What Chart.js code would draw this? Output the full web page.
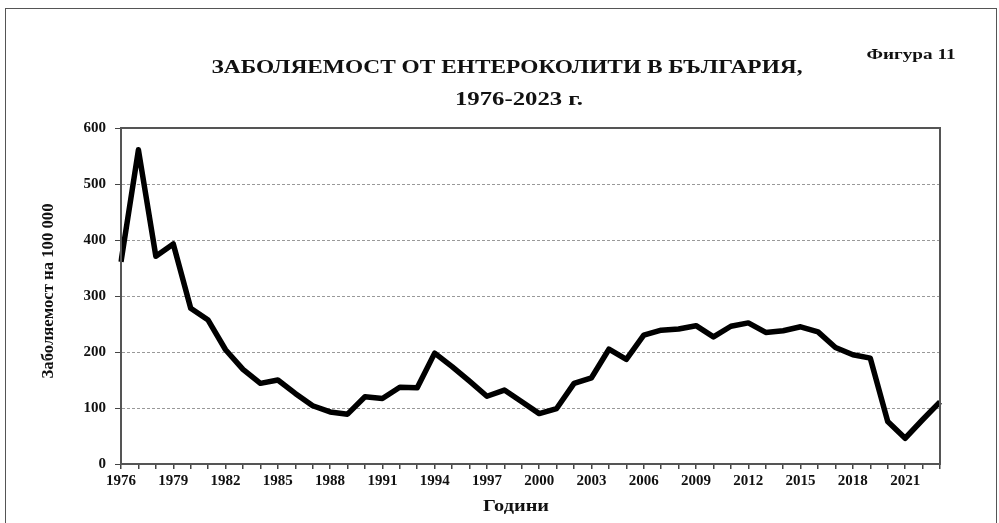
<!DOCTYPE html>
<html>
<head>
<meta charset="utf-8">
<script src="https://cdn.jsdelivr.net/npm/chart.js@4/dist/chart.umd.min.js"></script>
<style>
  html, body { margin: 0; padding: 0; background: #fff; }
  #wrap { position: relative; width: 999px; height: 523px; overflow: hidden; }
  #frame { position: absolute; left: 5px; top: 8px; width: 990px; height: 530px; border: 1.5px solid #555; }
  canvas { position: absolute; left: 0; top: 0; }
</style>
</head>
<body>
<div id="wrap">
  <div id="frame"></div>
  <canvas id="chart_zaboliaemost" width="999" height="523"></canvas>
</div>
<script>
// данни - години и заболяемост на 100 000
var godini = ['1976','1977','1978','1979','1980','1981','1982','1983','1984','1985','1986','1987',
  '1988','1989','1990','1991','1992','1993','1994','1995','1996','1997','1998','1999',
  '2000','2001','2002','2003','2004','2005','2006','2007','2008','2009','2010','2011',
  '2012','2013','2014','2015','2016','2017','2018','2019','2020','2021','2022','2023'];
var zaboliaemost = [361, 561, 371, 393, 278, 257, 204, 169, 144, 150, 126, 104,
  93, 89, 120, 117, 137, 136, 198, 174, 148, 121, 132, 111,
  90, 99, 144, 154, 205, 187, 230, 239, 241, 247, 227, 246,
  252, 235, 238, 245, 236, 208, 195, 189, 76, 46, 79, 111];
var pokazaniGodini = ['1976','1979','1982','1985','1988','1991','1994','1997','2000','2003','2006','2009','2012','2015','2018','2021'];
var yTicks = [0, 100, 200, 300, 400, 500, 600];

var zaglavie1 = 'ЗАБОЛЯЕМОСТ ОТ ЕНТЕРОКОЛИТИ В БЪЛГАРИЯ,';
var zaglavie2 = '1976-2023 г.';
var figura = 'Фигура 11';
var yZaglavie = 'Заболяемост на 100 000';
var xZaglavie = 'Години';

var serif = '"Liberation Serif", "DejaVu Serif", serif';

// текст, свит/разпънат до дадена ширина (сканът е разпънат хоризонтално)
function fitText(ctx, text, x, y, width, font, rot) {
  ctx.save();
  ctx.font = font;
  var w = ctx.measureText(text).width;
  ctx.translate(x, y);
  if (rot) ctx.rotate(rot);
  ctx.scale(width / w, 1);
  ctx.fillText(text, 0, 0);
  ctx.restore();
}

var ramka = {
  id: 'ramka',
  afterDraw: function(chart) {
    var ctx = chart.ctx;
    var a = chart.chartArea;
    ctx.save();
    ctx.strokeStyle = '#555';
    ctx.lineWidth = 2;
    ctx.strokeRect(a.left, a.top, a.right - a.left, a.bottom - a.top);
    ctx.fillStyle = '#111';
    ctx.textAlign = 'center';
    ctx.textBaseline = 'middle';
    fitText(ctx, zaglavie1, 507, 68, 591, 'bold 19px ' + serif);
    fitText(ctx, zaglavie2, 519, 100, 128, 'bold 19px ' + serif);
    fitText(ctx, figura, 911, 55, 89, 'bold 14px ' + serif);
    fitText(ctx, yZaglavie, 49, 291, 175, 'bold 16px ' + serif, -Math.PI / 2);
    fitText(ctx, xZaglavie, 516, 507, 66, 'bold 16px ' + serif);
    ctx.restore();
  }
};

var grafika = new Chart(document.getElementById('chart_zaboliaemost'), {
  type: 'line',
  data: {
    labels: godini,
    datasets: [{
      label: 'Заболяемост',
      data: zaboliaemost,
      borderColor: '#000',
      borderWidth: 5.5,
      borderJoinStyle: 'round',
      pointRadius: 0,
      fill: false,
      tension: 0
    }]
  },
  options: {
    responsive: false,
    animation: false,
    devicePixelRatio: 1,
    layout: { padding: { left: 0, right: 59, top: 128, bottom: 0 } },
    plugins: { legend: { display: false }, tooltip: { enabled: false } },
    scales: {
      x: {
        offset: false,
        afterFit: function(s) { s.height = 59; },
        grid: { drawOnChartArea: false, drawTicks: true, tickLength: 5, tickColor: '#444', lineWidth: 1.5 },
        border: { color: '#555', width: 2 },
        ticks: {
          autoSkip: false, maxRotation: 0, minRotation: 0, padding: 3,
          color: '#111',
          font: { family: serif, weight: 'bold', size: 15 },
          callback: function(v, i) {
            var g = godini[i];
            return pokazaniGodini.indexOf(g) >= 0 ? g : '';
          }
        }
      },
      y: {
        min: 0, max: 600,
        afterFit: function(s) { s.width = 121; },
        afterBuildTicks: function(s) { s.ticks = yTicks.map(function(v) { return { value: v }; }); },
        grid: { color: '#999', lineWidth: 1, drawTicks: true, tickLength: 6, tickColor: '#444', tickBorderDash: [] },
        border: { color: '#555', width: 2, dash: [3, 2] },
        ticks: {
          padding: 9, color: '#111',
          font: { family: serif, weight: 'bold', size: 15 }
        }
      }
    }
  },
  plugins: [ramka]
});
</script>
</body>
</html>
